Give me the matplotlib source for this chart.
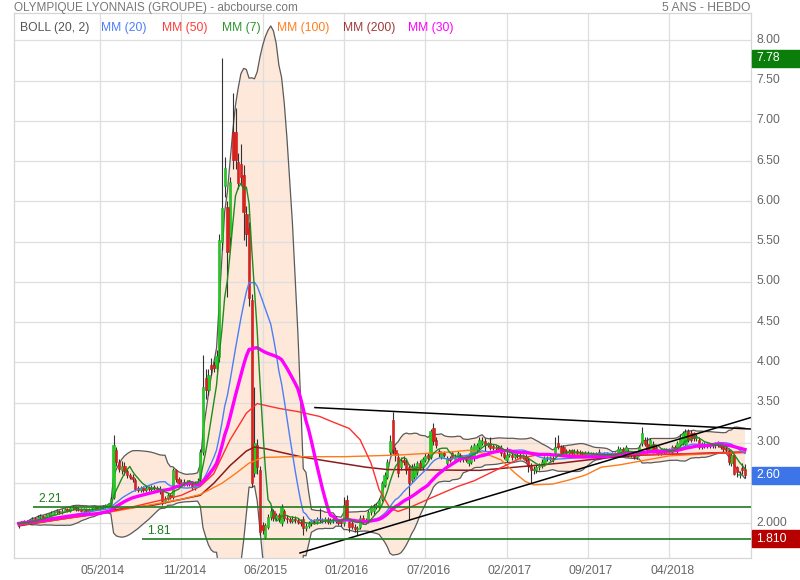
"""Weekly candlestick chart of Olympique Lyonnais (Groupe) with moving averages."""

import matplotlib

matplotlib.use("Agg")

import matplotlib.pyplot as plt
import matplotlib.transforms as mtransforms
import numpy as np
import pandas as pd
from matplotlib.patches import Rectangle

plt.rcParams["font.family"] = ["Liberation Sans", "DejaVu Sans"]

TITLE = "OLYMPIQUE LYONNAIS (GROUPE) - abcbourse.com"
PERIOD = "5 ANS - HEBDO"

DATE_TICKS = [30, 60, 90, 120, 150, 180, 210, 240]
DATE_LABELS = ["05/2014", "11/2014", "06/2015", "01/2016",
               "07/2016", "02/2017", "09/2017", "04/2018"]
PRICE_TICKS = [2.0, 2.5, 3.0, 3.5, 4.0, 4.5, 5.0, 5.5, 6.0, 6.5, 7.0, 7.5, 8.0]
PRICE_LABELS = ["2.000", "", "3.00", "3.50", "4.00", "4.50", "5.00",
                "5.50", "6.00", "6.50", "7.00", "7.50", "8.00"]

# weekly candles, one value per week (week 0 = oct 2013)
OPENS = [
    1.99, 2.00, 2.01, 2.02, 2.01, 2.04, 2.06, 2.05, 2.08, 2.09,
    2.07, 2.10, 2.11, 2.12, 2.14, 2.15, 2.14, 2.16, 2.17, 2.16,
    2.19, 2.20, 2.18, 2.17, 2.16, 2.17, 2.15, 2.17, 2.19, 2.20,
    2.19, 2.20, 2.21, 2.22, 2.22, 2.33, 2.91, 2.76, 2.66, 2.72,
    2.65, 2.60, 2.58, 2.54, 2.43, 2.42, 2.43, 2.42, 2.44, 2.43,
    2.45, 2.44, 2.43, 2.40, 2.28, 2.31, 2.35, 2.33, 2.66, 2.55,
    2.50, 2.52, 2.50, 2.51, 2.49, 2.45, 2.50, 2.55, 2.89, 3.81,
    3.66, 3.97, 3.97, 3.93, 4.07, 5.50, 6.19, 5.93, 5.56, 6.86,
    6.86, 6.49, 6.46, 6.33, 5.85, 5.67, 4.78, 2.63, 2.97, 2.66,
    1.98, 1.83, 1.96, 2.08, 2.15, 2.07, 2.10, 2.00, 2.15, 2.07,
    2.05, 2.03, 2.06, 2.04, 2.02, 2.06, 1.94, 1.97, 2.00, 2.03,
    2.02, 2.05, 2.04, 2.03, 2.05, 2.02, 2.04, 2.06, 2.03, 2.01,
    2.00, 2.29, 2.02, 2.00, 1.96, 1.93, 1.96, 2.07, 2.02, 2.04,
    2.14, 2.15, 2.21, 2.21, 2.31, 2.48, 2.58, 2.89, 3.29, 2.91,
    2.83, 2.70, 2.78, 2.77, 2.70, 2.54, 2.58, 2.64, 2.75, 2.70,
    2.79, 2.85, 2.83, 3.19, 3.04, 2.90, 2.83, 2.87, 2.75, 2.81,
    2.87, 2.79, 2.83, 2.85, 2.80, 2.80, 2.75, 2.77, 2.81, 2.91,
    2.95, 3.00, 3.02, 2.98, 3.00, 2.96, 2.94, 2.95, 2.94, 2.87,
    2.79, 2.85, 2.85, 2.82, 2.85, 2.84, 2.83, 2.83, 2.79, 2.72,
    2.66, 2.66, 2.70, 2.72, 2.75, 2.81, 2.81, 2.81, 2.87, 3.00,
    2.95, 2.95, 2.89, 2.88, 2.91, 2.87, 2.89, 2.88, 2.87, 2.86,
    2.87, 2.86, 2.86, 2.85, 2.89, 2.85, 2.85, 2.86, 2.85, 2.85,
    2.86, 2.85, 2.88, 2.92, 2.87, 2.90, 2.85, 2.87, 2.83, 2.87,
    3.00, 3.04, 2.99, 2.91, 2.99, 2.95, 2.90, 2.88, 2.89, 2.91,
    2.90, 2.89, 2.95, 2.91, 2.98, 3.00, 2.99, 3.15, 3.12, 3.12,
    3.06, 3.04, 2.95, 2.98, 2.97, 2.97, 2.97, 2.97, 2.99, 2.99,
    2.95, 2.93, 2.91, 2.75, 2.85, 2.70, 2.60, 2.69, 2.68,
]
CLOSES = [
    2.00, 2.01, 2.02, 2.01, 2.04, 2.06, 2.05, 2.08, 2.09, 2.07,
    2.10, 2.11, 2.12, 2.14, 2.15, 2.14, 2.16, 2.17, 2.16, 2.19,
    2.20, 2.18, 2.17, 2.16, 2.17, 2.15, 2.17, 2.19, 2.20, 2.19,
    2.20, 2.21, 2.22, 2.24, 2.30, 2.97, 2.76, 2.68, 2.72, 2.65,
    2.60, 2.58, 2.55, 2.43, 2.42, 2.43, 2.42, 2.44, 2.43, 2.45,
    2.44, 2.43, 2.40, 2.28, 2.31, 2.35, 2.33, 2.66, 2.55, 2.50,
    2.52, 2.50, 2.51, 2.49, 2.45, 2.50, 2.53, 2.89, 3.70, 3.66,
    3.85, 3.92, 3.93, 4.08, 5.52, 5.92, 6.42, 5.37, 6.24, 6.51,
    6.51, 6.23, 6.30, 5.87, 5.60, 4.80, 2.50, 3.00, 2.70, 1.90,
    1.92, 1.98, 2.08, 2.15, 2.07, 2.10, 2.05, 2.20, 2.07, 2.05,
    2.03, 2.06, 2.04, 2.02, 2.00, 1.94, 1.97, 2.00, 2.03, 2.02,
    2.05, 2.04, 2.03, 2.05, 2.02, 2.04, 2.06, 2.03, 2.01, 2.00,
    2.23, 2.07, 1.96, 1.96, 1.93, 1.94, 2.07, 2.02, 2.04, 2.14,
    2.20, 2.21, 2.23, 2.29, 2.50, 2.60, 2.77, 3.02, 2.91, 2.85,
    2.63, 2.78, 2.77, 2.66, 2.50, 2.70, 2.72, 2.75, 2.70, 2.80,
    2.84, 2.81, 3.15, 3.02, 2.98, 2.87, 2.87, 2.85, 2.81, 2.79,
    2.83, 2.83, 2.87, 2.80, 2.80, 2.79, 2.85, 2.95, 2.97, 2.97,
    3.04, 3.02, 2.98, 2.98, 2.94, 2.94, 2.95, 2.93, 2.87, 2.83,
    2.85, 2.85, 2.82, 2.85, 2.84, 2.83, 2.83, 2.79, 2.71, 2.66,
    2.68, 2.70, 2.72, 2.77, 2.81, 2.81, 2.81, 2.80, 2.95, 2.95,
    2.87, 2.89, 2.88, 2.89, 2.87, 2.89, 2.88, 2.87, 2.86, 2.87,
    2.86, 2.86, 2.85, 2.86, 2.85, 2.85, 2.86, 2.85, 2.85, 2.86,
    2.85, 2.93, 2.92, 2.90, 2.95, 2.85, 2.86, 2.83, 2.84, 2.95,
    3.13, 2.99, 2.91, 3.04, 2.91, 2.90, 2.88, 2.89, 2.91, 2.90,
    2.91, 2.95, 2.93, 3.00, 3.08, 3.12, 3.14, 3.04, 3.04, 3.06,
    3.08, 2.95, 2.98, 2.97, 2.97, 2.97, 2.97, 2.98, 2.98, 2.95,
    2.92, 2.91, 2.76, 2.85, 2.62, 2.64, 2.61, 2.66, 2.60,
]
HIGHS = [
    2.02, 2.03, 2.04, 2.04, 2.06, 2.08, 2.08, 2.10, 2.12, 2.11,
    2.12, 2.13, 2.15, 2.16, 2.18, 2.17, 2.18, 2.19, 2.19, 2.22,
    2.23, 2.22, 2.20, 2.19, 2.19, 2.19, 2.19, 2.21, 2.22, 2.22,
    2.22, 2.23, 2.24, 2.26, 2.33, 3.10, 2.95, 2.80, 2.78, 2.76,
    2.68, 2.63, 2.61, 2.57, 2.46, 2.46, 2.46, 2.47, 2.47, 2.48,
    2.48, 2.47, 2.46, 2.42, 2.34, 2.38, 2.38, 2.69, 2.68, 2.58,
    2.55, 2.55, 2.54, 2.54, 2.52, 2.53, 2.56, 2.92, 4.09, 3.92,
    3.92, 4.05, 4.02, 4.15, 5.60, 7.78, 6.55, 6.00, 6.30, 7.35,
    7.16, 6.60, 6.72, 6.45, 5.95, 5.75, 4.85, 3.70, 3.05, 2.72,
    2.02, 2.01, 2.12, 2.20, 2.18, 2.13, 2.13, 2.24, 2.18, 2.10,
    2.08, 2.09, 2.09, 2.07, 2.05, 2.09, 2.00, 2.03, 2.06, 2.06,
    2.08, 2.19, 2.07, 2.08, 2.08, 2.07, 2.09, 2.09, 2.06, 2.04,
    2.33, 2.35, 2.05, 2.03, 1.99, 1.97, 2.10, 2.10, 2.07, 2.17,
    2.23, 2.24, 2.26, 2.32, 2.53, 2.64, 2.80, 3.10, 3.39, 2.95,
    2.88, 2.82, 2.84, 2.80, 2.74, 2.74, 2.75, 2.78, 2.79, 2.83,
    2.87, 2.88, 3.18, 3.25, 3.07, 2.93, 2.90, 2.90, 2.84, 2.84,
    2.90, 2.86, 2.90, 2.88, 2.83, 2.83, 2.88, 2.98, 3.00, 3.00,
    3.07, 3.07, 3.06, 3.01, 3.07, 2.99, 2.98, 2.98, 2.97, 2.90,
    2.95, 2.88, 2.88, 2.88, 2.88, 2.87, 2.86, 2.86, 2.82, 2.75,
    2.71, 2.73, 2.75, 2.80, 2.84, 2.84, 2.84, 2.84, 3.08, 3.10,
    2.98, 2.98, 2.92, 2.92, 2.93, 2.92, 2.92, 2.91, 2.90, 2.90,
    2.90, 2.89, 2.89, 2.89, 2.93, 2.88, 2.89, 2.89, 2.88, 2.89,
    2.89, 2.96, 2.95, 2.95, 2.98, 2.93, 2.89, 2.90, 2.87, 2.98,
    3.20, 3.08, 3.08, 3.06, 3.02, 2.98, 2.93, 2.92, 2.94, 2.94,
    2.94, 2.98, 2.97, 3.03, 3.11, 3.15, 3.18, 3.17, 3.16, 3.14,
    3.11, 3.07, 3.01, 3.01, 3.00, 3.00, 3.00, 3.01, 3.02, 3.01,
    2.98, 2.97, 2.94, 2.88, 2.88, 2.72, 2.65, 2.75, 2.74,
]
LOWS = [
    1.95, 1.98, 1.99, 1.99, 1.99, 2.02, 2.03, 2.03, 2.06, 2.05,
    2.05, 2.08, 2.09, 2.10, 2.12, 2.12, 2.12, 2.14, 2.14, 2.14,
    2.17, 2.16, 2.15, 2.14, 2.14, 2.13, 2.13, 2.15, 2.17, 2.17,
    2.17, 2.18, 2.19, 2.20, 2.20, 2.30, 2.72, 2.64, 2.62, 2.60,
    2.57, 2.55, 2.52, 2.40, 2.39, 2.39, 2.39, 2.39, 2.40, 2.40,
    2.41, 2.40, 2.37, 2.23, 2.26, 2.29, 2.30, 2.31, 2.52, 2.47,
    2.47, 2.47, 2.47, 2.46, 2.42, 2.42, 2.47, 2.52, 2.85, 3.55,
    3.60, 3.85, 3.88, 3.88, 4.00, 5.40, 6.05, 4.81, 5.45, 6.40,
    6.40, 6.15, 6.20, 5.52, 5.45, 4.70, 2.45, 2.58, 2.62, 1.86,
    1.87, 1.81, 1.93, 2.04, 2.03, 2.04, 2.02, 1.97, 2.03, 2.01,
    2.00, 2.00, 2.01, 1.99, 1.97, 1.86, 1.91, 1.94, 1.97, 1.99,
    1.99, 2.01, 2.00, 2.00, 1.99, 1.99, 2.01, 2.00, 1.98, 1.97,
    1.97, 2.04, 1.90, 1.93, 1.89, 1.86, 1.93, 1.99, 1.99, 2.01,
    2.11, 2.12, 2.18, 2.18, 2.28, 2.45, 2.55, 2.85, 2.86, 2.78,
    2.58, 2.66, 2.73, 2.62, 2.04, 2.50, 2.55, 2.60, 2.66, 2.67,
    2.76, 2.78, 2.80, 2.98, 2.94, 2.83, 2.80, 2.82, 2.72, 2.76,
    2.80, 2.76, 2.80, 2.77, 2.77, 2.76, 2.72, 2.74, 2.78, 2.88,
    2.92, 2.97, 2.90, 2.95, 2.91, 2.91, 2.91, 2.90, 2.84, 2.80,
    2.76, 2.82, 2.79, 2.80, 2.81, 2.80, 2.80, 2.76, 2.64, 2.50,
    2.62, 2.63, 2.67, 2.69, 2.72, 2.78, 2.78, 2.77, 2.84, 2.92,
    2.84, 2.86, 2.85, 2.85, 2.84, 2.84, 2.85, 2.84, 2.83, 2.83,
    2.83, 2.83, 2.82, 2.82, 2.82, 2.82, 2.82, 2.82, 2.82, 2.82,
    2.82, 2.82, 2.86, 2.87, 2.84, 2.82, 2.82, 2.80, 2.80, 2.84,
    2.96, 2.96, 2.88, 2.89, 2.88, 2.87, 2.85, 2.85, 2.86, 2.87,
    2.87, 2.86, 2.90, 2.88, 2.95, 2.97, 2.96, 3.01, 3.01, 3.03,
    3.03, 2.92, 2.92, 2.94, 2.94, 2.94, 2.94, 2.94, 2.95, 2.92,
    2.89, 2.88, 2.73, 2.72, 2.60, 2.58, 2.57, 2.62, 2.57,
]

# long moving averages at a few weeks
MM50_WEEKS = [0, 30, 40, 60, 67, 72, 78, 84, 88, 92, 96, 103, 111, 116, 122,
              126, 130, 133, 137, 140, 145, 153, 162, 168, 179, 185, 191, 222, 268]
MM50_VALUES = [1.98, 2.12, 2.19, 2.35, 2.46, 2.62, 3.04, 3.37, 3.49, 3.46, 3.43,
               3.39, 3.33, 3.26, 3.18, 3.04, 2.75, 2.42, 2.19, 2.15, 2.21, 2.33,
               2.46, 2.53, 2.71, 2.81, 2.85, 2.85, 2.88]
MM100_WEEKS = [0, 35, 60, 67, 75, 80, 85, 90, 100, 120, 140, 160, 166, 172, 178,
               183, 187, 190, 197, 203, 209, 215, 222, 240, 268]
MM100_VALUES = [1.98, 2.15, 2.30, 2.36, 2.50, 2.62, 2.75, 2.82, 2.83, 2.83, 2.85,
                2.89, 2.91, 2.87, 2.79, 2.63, 2.52, 2.48, 2.49, 2.54, 2.60, 2.70,
                2.73, 2.84, 2.89]
MM200_WEEKS = [0, 30, 35, 50, 60, 67, 72, 78, 84, 87, 91, 96, 104, 113, 128, 136,
               170, 200, 215, 230, 250, 268]
MM200_VALUES = [1.97, 2.13, 2.17, 2.23, 2.30, 2.35, 2.50, 2.72, 2.90, 2.95, 2.93,
                2.89, 2.83, 2.78, 2.70, 2.67, 2.66, 2.75, 2.81, 2.85, 2.87, 2.89]

# drawn trend lines (week, price)
RESISTANCE = [(109.3, 3.44), (269.9, 3.174)]
SUPPORT = [(103.8, 1.634), (269.9, 3.314)]
LEVELS = [2.21, 1.81]
LEVEL_STARTS = [5.4, 45.4]

LAST_HIGH = 7.78
LAST_PRICE = 2.60
LAST_LOW = 1.81

FIG_W, FIG_H = 800, 580
TEXT_GREY = "#666666"
GRID = "#dedede"
LEVEL_GREEN = "#1e7d1e"


def fx(px):
    return px / FIG_W


def fy(py):
    return 1 - py / FIG_H


opens = np.array(OPENS)
closes = np.array(CLOSES)
highs = np.array(HIGHS)
lows = np.array(LOWS)
weeks = np.arange(len(closes))

close_series = pd.Series(closes)
mm7 = close_series.rolling(7, min_periods=1).mean()
mm20 = close_series.rolling(20, min_periods=1).mean()
mm30 = close_series.rolling(30, min_periods=1).mean()
std20 = close_series.rolling(20, min_periods=1).std(ddof=0).fillna(0)
boll_up = mm20 + 2 * std20
boll_dn = mm20 - 2 * std20

fig = plt.figure(figsize=(FIG_W / 100, FIG_H / 100), dpi=100)
ax = fig.add_axes([fx(14), fy(558), fx(751) - fx(14), fy(13) - fy(558)])
ax.set_xlim(-1.73, 270.2)
ax.set_ylim(1.5714, 8.3416)

# bollinger envelope
ax.fill_between(weeks, boll_dn, boll_up, color="#fde8da", lw=0, zorder=1)
ax.plot(weeks, boll_up, color="#5a5a5a", lw=0.9, zorder=2)
ax.plot(weeks, boll_dn, color="#5a5a5a", lw=0.9, zorder=2)

# candles
up = closes >= opens
ax.vlines(weeks, lows, highs, color="#333333", lw=0.8, zorder=3)
body_low = np.minimum(opens, closes)
body_h = np.maximum(np.abs(closes - opens), 0.015)
ax.bar(weeks[up], body_h[up], bottom=body_low[up], width=0.85,
       color="#1fcf1f", edgecolor="#1fa81f", lw=0.4, zorder=3.1)
ax.bar(weeks[~up], body_h[~up], bottom=body_low[~up], width=0.85,
       color="#e01f1f", edgecolor="#c01818", lw=0.4, zorder=3.1)

# moving averages
ax.plot(MM200_WEEKS, MM200_VALUES, color="#8b1c1c", lw=1.1, zorder=4)
ax.plot(MM100_WEEKS, MM100_VALUES, color="#ff7a1a", lw=1.0, zorder=4)
ax.plot(MM50_WEEKS, MM50_VALUES, color="#ff3030", lw=1.0, zorder=4)
ax.plot(weeks, mm20, color="#4d7ef7", lw=1.0, zorder=4.1)
ax.plot(weeks, mm30, color="#ff00ff", lw=2.4, zorder=4.2)
ax.plot(weeks, mm7, color="#1e8c1e", lw=1.0, zorder=4.3)

# trend lines and levels
for line in (RESISTANCE, SUPPORT):
    xs, ys = zip(*line)
    ax.plot(xs, ys, color="black", lw=1.1, zorder=5)
for level, start in zip(LEVELS, LEVEL_STARTS):
    ax.hlines(level, start, 270.2, color=LEVEL_GREEN, lw=1.2, zorder=5)
    ax.text(start + 1.9, level + 0.02, f"{level:.2f}", color=LEVEL_GREEN,
            fontsize=8.7, va="bottom", ha="left", zorder=5)

# axes styling
ax.set_axisbelow("line")
ax.grid(True, color=GRID, lw=0.9)
for spine in ax.spines.values():
    spine.set_color("#d6d6d6")
    spine.set_linewidth(0.9)
ax.yaxis.tick_right()
ax.set_yticks(PRICE_TICKS)
ax.set_yticklabels(PRICE_LABELS)
ax.set_xticks(DATE_TICKS)
ax.set_xticklabels(DATE_LABELS)
ax.tick_params(length=0, labelsize=8.7, labelcolor=TEXT_GREY)
ax.tick_params(axis="x", pad=5)
ax.tick_params(axis="y", pad=4)
shift_x = mtransforms.ScaledTranslation(3 / 100, 0, fig.dpi_scale_trans)
for lab in ax.get_xticklabels():
    lab.set_transform(lab.get_transform() + shift_x)
shift_y = mtransforms.ScaledTranslation(0, 2 / 100, fig.dpi_scale_trans)
for lab in ax.get_yticklabels():
    lab.set_transform(lab.get_transform() + shift_y)

# price boxes on the right
box_trans = mtransforms.blended_transform_factory(fig.transFigure, ax.transData)
box_h = 17 / 80.5
for value, label, colour in [(LAST_HIGH, "7.78", "#0b7d0b"),
                             (LAST_PRICE, "2.60", "#3d74e8"),
                             (LAST_LOW, "1.810", "#b80000")]:
    ax.add_patch(Rectangle((fx(752), value - box_h / 2), fx(48), box_h,
                           transform=box_trans, color=colour, clip_on=False,
                           zorder=6))
    ax.text(fx(756), value, label, transform=box_trans, color="white",
            fontsize=8.7, va="center", ha="left", clip_on=False, zorder=7)

# header
fig.text(fx(14), fy(8), TITLE, color="#777777", fontsize=8.5, va="center")
fig.text(fx(751), fy(8), PERIOD, color="#777777", fontsize=8.7, va="center",
         ha="right")
legend_items = [("BOLL (20, 2)", 20, "#555555"), ("MM (20)", 101.5, "#4d7ef7"),
                ("MM (50)", 162, "#ff3b3b"), ("MM (7)", 222.5, "#2a962a"),
                ("MM (100)", 277, "#ff7f1e"), ("MM (200)", 343, "#a03a3a"),
                ("MM (30)", 408, "#ff00ff")]
for text, left, colour in legend_items:
    fig.text(fx(left), fy(27.5), text, color=colour, fontsize=8.7, va="center",
             zorder=8)

fig.savefig("out.png", dpi=100)
